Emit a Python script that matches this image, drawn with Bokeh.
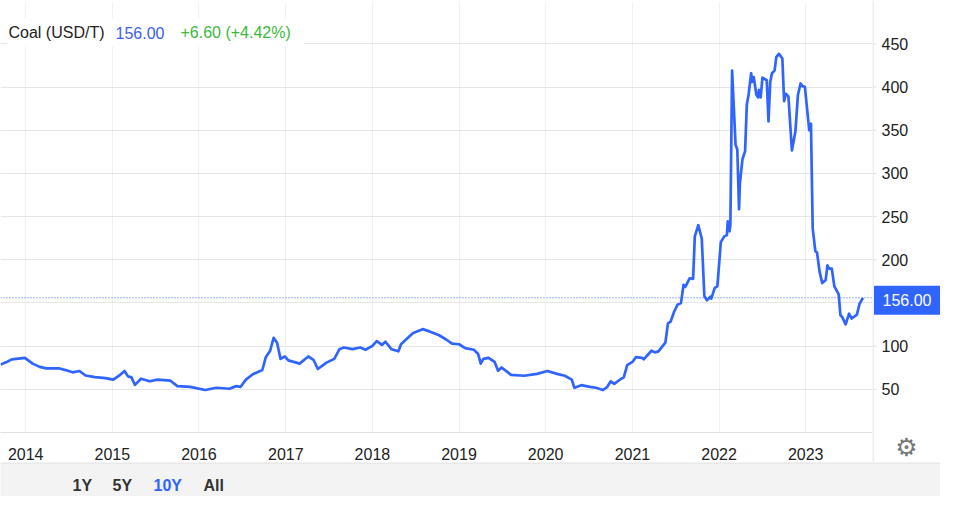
from datetime import datetime, timedelta

from bokeh.core.properties import value
from bokeh.embed import file_html
from bokeh.layouts import column, row
from bokeh.models import (BoxAnnotation, DatetimeTickFormatter, FixedTicker,
                          Label, Range1d, Span)
from bokeh.plotting import figure
from bokeh.resources import INLINE

# ---------------- data ----------------
YEARS = [2013.71, 2013.78, 2013.84, 2013.99,
         2014.08, 2014.16, 2014.24, 2014.39, 2014.46, 2014.54, 2014.62, 2014.69, 2014.80, 2014.92,
         2015.01, 2015.09, 2015.14, 2015.18, 2015.22, 2015.26, 2015.33, 2015.43, 2015.52, 2015.67, 2015.75, 2015.90,
         2016.07, 2016.20, 2016.35, 2016.43, 2016.48, 2016.54, 2016.62, 2016.73, 2016.77, 2016.82, 2016.86, 2016.90, 2016.94, 2016.99,
         2017.03, 2017.16, 2017.26, 2017.32, 2017.37, 2017.47, 2017.56, 2017.62, 2017.67, 2017.77, 2017.86, 2017.92,
         2018.00, 2018.05, 2018.11, 2018.15, 2018.22, 2018.30, 2018.33, 2018.41, 2018.47, 2018.58, 2018.66, 2018.77, 2018.85, 2018.92,
         2019.00, 2019.07, 2019.17, 2019.22, 2019.25, 2019.28, 2019.34, 2019.41, 2019.45, 2019.49, 2019.60, 2019.75, 2019.90,
         2020.02, 2020.13, 2020.22, 2020.30, 2020.33, 2020.41, 2020.51, 2020.58, 2020.66, 2020.71, 2020.75, 2020.79, 2020.87, 2020.90, 2020.94,
         2021.00, 2021.04, 2021.11, 2021.13, 2021.22, 2021.26, 2021.30, 2021.38, 2021.41, 2021.44, 2021.48, 2021.52, 2021.56, 2021.59,
         2021.61, 2021.66, 2021.70, 2021.72, 2021.76, 2021.80, 2021.83, 2021.86, 2021.90, 2021.91, 2021.95, 2021.98,
         2022.02, 2022.06, 2022.09, 2022.10, 2022.12, 2022.13, 2022.15, 2022.19, 2022.21, 2022.23, 2022.24, 2022.27, 2022.30, 2022.32,
         2022.34, 2022.37, 2022.38, 2022.40, 2022.43, 2022.45, 2022.46, 2022.48, 2022.50, 2022.55, 2022.57, 2022.59, 2022.61, 2022.64,
         2022.66, 2022.69, 2022.73, 2022.75, 2022.77, 2022.80, 2022.84, 2022.88, 2022.91, 2022.94, 2022.96, 2022.99,
         2023.01, 2023.04, 2023.06, 2023.08, 2023.11, 2023.13, 2023.16, 2023.19, 2023.23, 2023.25, 2023.27, 2023.30, 2023.33, 2023.38,
         2023.40, 2023.42, 2023.46, 2023.50, 2023.53, 2023.59, 2023.62, 2023.63, 2023.66]

PRICES = [78.6, 81.7, 84.7, 86.5,
          79.8, 76.0, 74.2, 74.2, 72.3, 69.7, 71.2, 66.0, 64.1, 63.0,
          61.2, 66.8, 71.2, 65.0, 63.8, 55.2, 62.3, 59.3, 61.2, 60.0, 53.7, 52.9,
          49.2, 51.8, 50.7, 53.7, 52.9, 61.2, 67.5, 72.4, 87.2, 94.7, 109.6, 104.0, 85.3, 88.0,
          83.5, 79.8, 88.0, 84.2, 73.5, 80.9, 85.3, 96.5, 98.4, 96.5, 98.4, 95.8,
          100.3, 105.9, 101.4, 105.1, 96.5, 94.0, 102.2, 109.6, 115.2, 119.7, 117.1, 112.6, 107.7, 102.9,
          102.2, 97.7, 95.8, 90.9, 79.8, 85.3, 86.5, 81.7, 71.6, 75.3, 66.8, 65.7, 67.9,
          71.2, 67.9, 65.7, 61.2, 51.8, 54.8, 52.9, 51.8, 49.2, 52.9, 59.3, 56.3, 62.3, 63.8, 78.0,
          81.7, 87.2, 86.5, 84.7, 94.7, 92.8, 94.0, 104.0, 126.4, 128.3, 139.5, 148.0, 149.9, 171.1,
          168.6, 178.6, 177.9, 227.1, 240.1, 224.5, 158.1, 153.2, 157.4, 155.1, 167.5, 169.3,
          220.5, 227.1, 228.6, 244.6, 233.0, 240.1, 419.1, 333.3, 327.7, 258.7, 288.6, 316.6, 325.8, 380.0,
          391.2, 416.1, 406.0, 411.6, 391.2, 388.1, 396.7, 388.1, 410.9, 408.0, 360.2, 406.0, 416.1, 419.1,
          434.8, 438.5, 433.2, 383.7, 392.3, 389.3, 326.6, 348.2, 391.2, 404.2, 401.2, 400.4,
          380.0, 350.1, 357.6, 236.4, 210.3, 208.4, 186.0, 173.0, 176.7, 193.5, 189.8, 189.8, 169.2, 160.0,
          135.7, 133.9, 125.3, 137.6, 132.0, 136.5, 148.8, 150.7, 156.0]

YEAR_TICKS = [2014, 2015, 2016, 2017, 2018, 2019, 2020, 2021, 2022, 2023]
GRID_PRICES = [50, 100, 150, 200, 250, 300, 350, 400, 450]
PRICE_LABELS = ["50", "100", "200", "250", "300", "350", "400", "450"]  # 150 sits under the price tag
X_START_YEAR, X_END_YEAR = 2013.709, 2023.77
Y_MAX = 498

TITLE = "Coal (USD/T)"
LAST = "156.00"
CHANGE = "+6.60 (+4.42%)"
LAST_VALUE = 156.0
BUTTONS = ["1Y", "5Y", "10Y", "All"]
ACTIVE_BUTTON = "10Y"


def to_dt(y):
    return datetime(2014, 1, 1) + timedelta(days=(y - 2014) * 365.25)


dates = [to_dt(y) for y in YEARS]
tick_ms = [(datetime(y, 1, 1) - datetime(1970, 1, 1)).total_seconds() * 1000 for y in YEAR_TICKS]

FONT = "Liberation Sans"
BLUE = "#2f64ff"
TEXT = "#222222"
AXIS_GREY = "#e0e0e0"

W = 940
AXIS_W = 68
MAIN_W = W - AXIS_W
H_MAIN = 462
TOP_B = 2
BOTTOM_B = 30
FRAME_H = H_MAIN - TOP_B - BOTTOM_B
H_BTN = 34
UPP = Y_MAX / FRAME_H  # price units per pixel

# ---------------- main chart ----------------
p = figure(width=MAIN_W, height=H_MAIN, x_axis_type="datetime", y_axis_location=None,
           x_range=Range1d(to_dt(X_START_YEAR), to_dt(X_END_YEAR)),
           y_range=Range1d(0, Y_MAX),
           output_backend="svg", toolbar_location=None)
p.min_border_left = 0
p.min_border_right = 0
p.min_border_top = TOP_B
p.min_border_bottom = BOTTOM_B
p.outline_line_color = None
p.background_fill_color = "white"
p.border_fill_color = "white"
p.frame_align = False

xa = p.xaxis[0]
xa.ticker = FixedTicker(ticks=tick_ms)
xa.formatter = DatetimeTickFormatter(years="%Y", months="%Y", days="%Y", hours="%Y")
xa.axis_line_color = AXIS_GREY
xa.major_tick_line_color = None
xa.minor_tick_line_color = None
xa.major_label_standoff = 9
xa.major_label_text_font = FONT
xa.major_label_text_font_size = "16px"
xa.major_label_text_color = TEXT

p.xgrid.grid_line_color = "#edf1f6"
p.ygrid.grid_line_color = "#e6e6e6"
p.ygrid.ticker = FixedTicker(ticks=GRID_PRICES)

p.add_layout(BoxAnnotation(left=7, right=303, bottom=386, top=414,
                           left_units="screen", right_units="screen",
                           bottom_units="screen", top_units="screen",
                           fill_color="white", fill_alpha=1.0, line_color=None, level="underlay"))

p.line(dates, PRICES, line_color=BLUE, line_width=2.7, line_join="round")

p.add_layout(Span(location=LAST_VALUE, dimension="width", line_color=BLUE,
                  line_width=1, line_dash="1 2"))

for txt, xo, col in [(TITLE, 8, TEXT), (LAST, 115, "#3d5ee8"), (CHANGE, 180, "#3cb93c")]:
    p.add_layout(Label(x=xo, y=400, x_units="screen", y_units="screen", text=txt,
                       text_font=FONT, text_font_size="16px", text_color=col,
                       text_baseline="middle", text_align="left", level="overlay"))

# ---------------- right price axis panel ----------------
r = figure(width=AXIS_W, height=H_MAIN, x_range=Range1d(0, AXIS_W),
           y_range=Range1d(-BOTTOM_B * UPP, Y_MAX + TOP_B * UPP),
           output_backend="svg", toolbar_location=None, min_border=0)
r.frame_align = False
r.axis.visible = False
r.grid.visible = False
r.outline_line_color = None
r.background_fill_color = "white"
r.border_fill_color = "white"

r.add_layout(Span(location=0.5, dimension="height", line_color=AXIS_GREY, line_width=1))
label_vals = [float(t) for t in PRICE_LABELS]
r.segment(x0=[0] * len(label_vals), x1=[4] * len(label_vals), y0=label_vals, y1=label_vals,
          line_color=AXIS_GREY, line_width=1)
r.text(x=[9] * len(label_vals), y=label_vals, text=PRICE_LABELS, text_color=TEXT,
       text_font=value(FONT), text_font_size="16px", text_baseline="middle", text_align="left")

# last-price tag
tag_half = 14.5 * UPP
tag_mid = LAST_VALUE - 2.5 * UPP
r.quad(left=[1.5], right=[AXIS_W], bottom=[tag_mid - tag_half], top=[tag_mid + tag_half],
       fill_color=BLUE, line_color=None)
r.text(x=[10], y=[tag_mid], text=[LAST], text_color="white",
       text_font=value(FONT), text_font_size="16px", text_baseline="middle", text_align="left")

# settings gear
r.text(x=[AXIS_W / 2], y=[-15 * UPP], text=["\u2699"], text_color="#767676",
       text_font=value("DejaVu Sans"), text_font_size="25px",
       text_baseline="middle", text_align="center")

# ---------------- range buttons strip ----------------
b = figure(width=W, height=H_BTN, x_range=Range1d(0, W), y_range=Range1d(0, H_BTN),
           output_backend="svg", toolbar_location=None, min_border=0)
b.frame_align = False
b.axis.visible = False
b.grid.visible = False
b.outline_line_color = None
b.background_fill_color = "#f3f3f3"
b.border_fill_color = "#f3f3f3"
b.add_layout(Span(location=H_BTN - 0.5, dimension="width", line_color=AXIS_GREY, line_width=1))
btn_x = [72, 112, 153, 203]
btn_col = [BLUE if t == ACTIVE_BUTTON else "#333333" for t in BUTTONS]
b.text(x=btn_x, y=[11] * len(BUTTONS), text=BUTTONS, text_color=btn_col,
       text_font=value(FONT), text_font_size="16px", text_font_style="bold",
       text_baseline="middle", text_align="left")

layout = column(row(p, r, spacing=0), b, spacing=0)
open("out.html", "w").write(file_html(layout, INLINE))
